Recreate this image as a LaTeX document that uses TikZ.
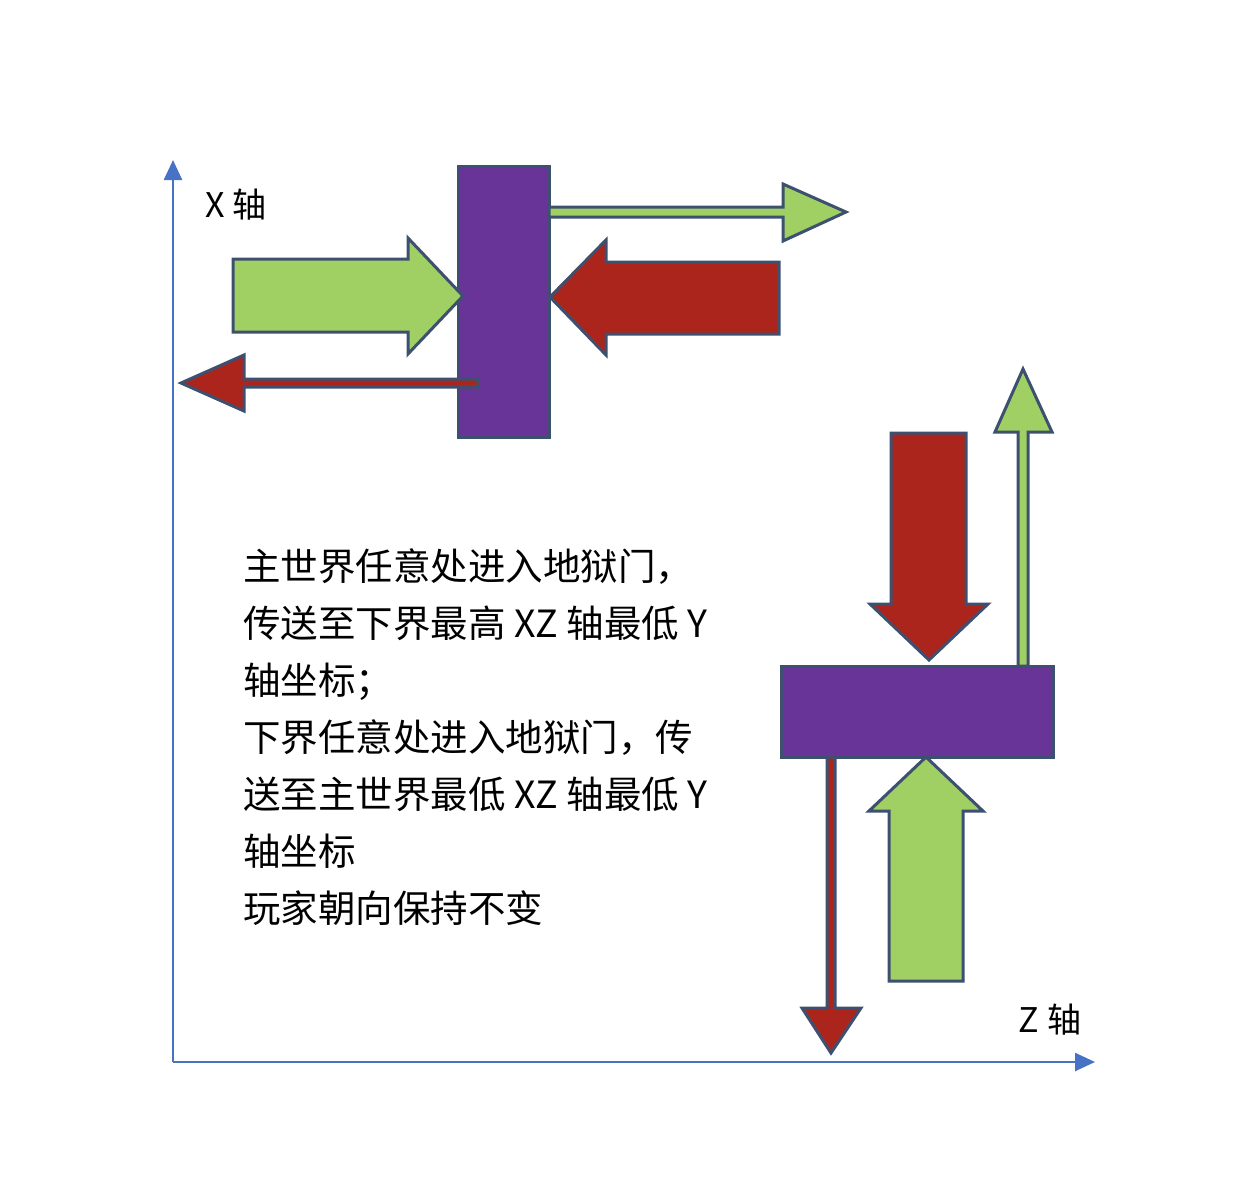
\documentclass[tikz,border=0pt]{standalone}
\usepackage{fontspec}
\setmainfont{Noto Sans CJK SC}
\usetikzlibrary{arrows.meta}
\definecolor{axisblue}{RGB}{72, 114, 196}
\definecolor{portalpurple}{RGB}{104, 52, 152}
\definecolor{edgeslate}{RGB}{62, 80, 112}
\definecolor{goodgreen}{RGB}{160, 207, 99}
\definecolor{hotred}{RGB}{172, 37, 28}
\tikzset{
  axis/.style={-{Triangle[length=20pt, width=18pt]}, line width=2.5pt, color=axisblue},
  axislabel/.style={font=\fontsize{34}{40}\selectfont, inner sep=0pt},
  portal/.style={
    rectangle, draw=edgeslate, fill=portalpurple,
    line width=3pt, inner sep=0pt
  },
  greenarr/.style={draw=edgeslate, fill=goodgreen, line width=3pt, line join=miter},
  redarr/.style={draw=edgeslate, fill=hotred, line width=3pt, line join=miter},
  note/.style={
    align=left, inner sep=0pt, anchor=north west,
    font=\fontsize{37.5}{57}\selectfont
  },
}
\begin{document}
\begin{tikzpicture}[x=1pt, y=-1pt]

  \useasboundingbox (0,0) rectangle (1242,1195);

  % Axes
  \coordinate (origin) at (173,1062);
  \coordinate (xtip)   at (173,160);
  \coordinate (ztip)   at (1095,1062);
  \draw[axis] (origin) -- (xtip);
  \draw[axis] (origin) -- (ztip);
  \node[axislabel] (xlab) at (236,205)  {X 轴};
  \node[axislabel] (zlab) at (1050,1020) {Z 轴};

  % Portals
  \node[portal, minimum width=91pt,  minimum height=271pt] (portalX) at (503.5,301.5) {};
  \node[portal, minimum width=272pt, minimum height=91pt]  (portalZ) at (917,711.5)   {};

  % X axis arrows
  \draw[greenarr] (233,259) -- (408,259) -- (408,238) -- (463,296) -- (408,354)
    -- (408,332) -- (233,332) -- cycle;
  \draw[redarr] (779,262) -- (606,262) -- (606,240) -- (550,297) -- (606,355)
    -- (606,334) -- (779,334) -- cycle;
  \draw[greenarr] (549,207) -- (783,207) -- (783,184) -- (846,212) -- (783,241)
    -- (783,217) -- (549,217) -- cycle;
  \draw[redarr] (478,379) -- (244,379) -- (244,355) -- (181,383) -- (244,411)
    -- (244,387) -- (478,387) -- cycle;

  % Z axis arrows
  \draw[redarr] (891,433) -- (966,433) -- (966,604) -- (988,604) -- (929,660)
    -- (870,604) -- (891,604) -- cycle;
  \draw[greenarr] (889,981) -- (889,811) -- (869,811) -- (926,757) -- (983,811)
    -- (963,811) -- (963,981) -- cycle;
  \draw[greenarr] (1018,666) -- (1018,432) -- (995,432) -- (1023,369) -- (1052,432)
    -- (1028,432) -- (1028,666) -- cycle;
  \draw[redarr] (827,757) -- (827,1008) -- (802,1008) -- (831,1053) -- (861,1008)
    -- (835,1008) -- (835,757) -- cycle;

  % Note
  \node[note] (rules) at (243,548) {主世界任意处进入地狱门，\\
    传送至下界最高 XZ 轴最低 Y\\
    轴坐标；\\
    下界任意处进入地狱门，传\\
    送至主世界最低 XZ 轴最低 Y\\
    轴坐标\\
    玩家朝向保持不变};

\end{tikzpicture}
\end{document}
